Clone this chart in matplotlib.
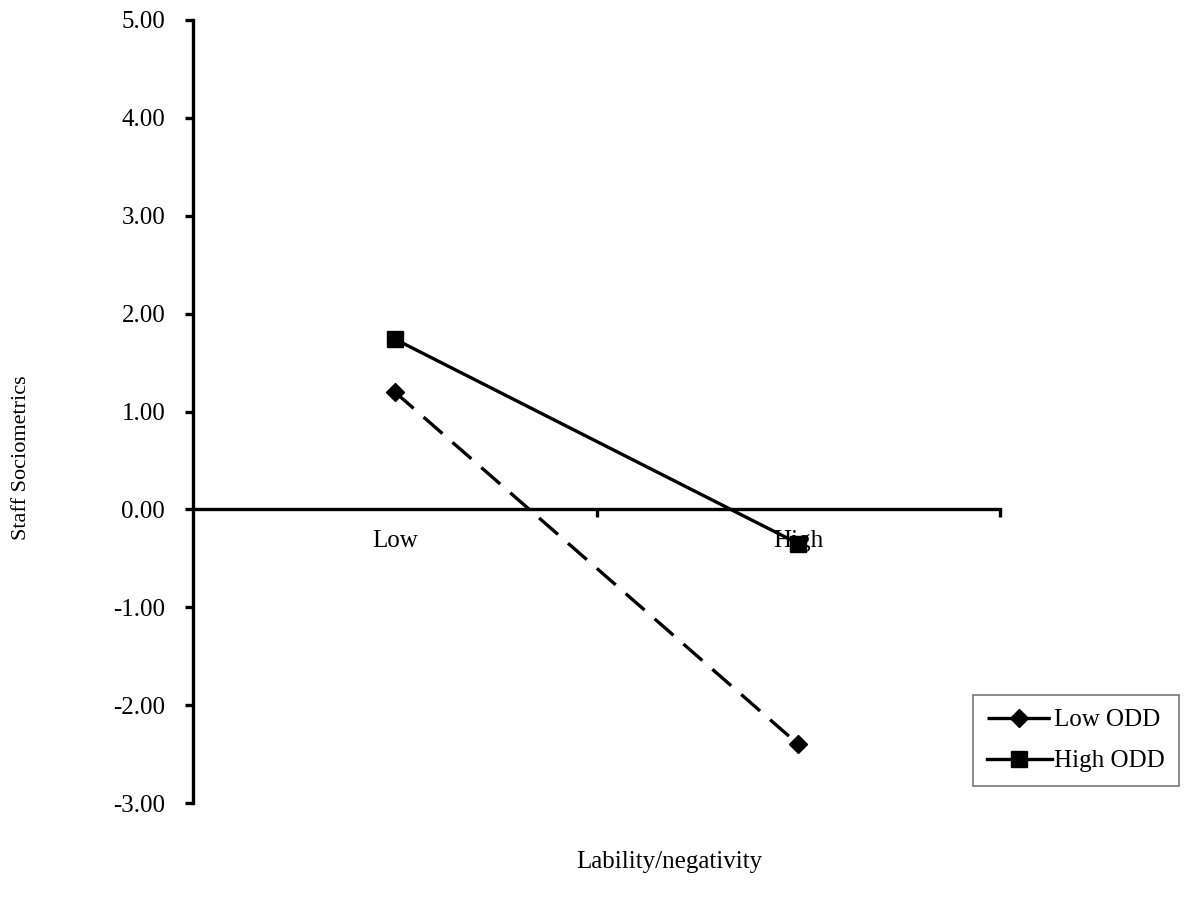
import matplotlib
matplotlib.use("Agg")
import matplotlib.pyplot as plt

categories = ["Low", "High"]
low_odd = [1.20, -2.40]
high_odd = [1.74, -0.35]
yticks = [5.0, 4.0, 3.0, 2.0, 1.0, 0.0, -1.0, -2.0, -3.0]

plt.rcParams['font.family'] = ['Liberation Serif', 'DejaVu Serif']
fs = 18

fig = plt.figure(figsize=(12.01, 9.15), dpi=100)
ax = fig.add_axes([193/1201, 112/915, 807/1201, 783/915])

xpos = [0.5 + i for i in range(len(categories))]
ax.plot(xpos, low_odd, color='black', lw=2.4, dashes=(7.5, 4), marker='D',
        markersize=9, label='Low ODD', zorder=3)
ax.plot(xpos, high_odd, color='black', lw=2.4, marker='s',
        markersize=12, label='High ODD', zorder=3)

ax.set_xlim(0, 2)
ax.set_ylim(-3, 5)

for s in ['top', 'right']:
    ax.spines[s].set_visible(False)
ax.spines['bottom'].set_position(('data', 0))
ax.spines['left'].set_linewidth(2.4)
ax.spines['bottom'].set_linewidth(2.4)

ax.set_yticks(yticks)
ax.set_yticklabels([f"{v:.2f}" for v in yticks], fontsize=fs)
ax.tick_params(axis='y', direction='out', length=6, width=2.4, pad=14)

ax.set_xticks([1, 2])
ax.set_xticklabels([])
ax.tick_params(axis='x', which='major', direction='out', length=6, width=2.4)
ax.set_xticks(xpos, minor=True)
ax.set_xticklabels(categories, minor=True, fontsize=fs)
ax.tick_params(axis='x', which='minor', length=0, pad=15)

fig.text(22/1201, 1 - 458/915, "Staff Sociometrics", rotation=90,
         ha='center', va='center', fontsize=16)
fig.text(669/1201, 1 - 862/915, "Lability/negativity",
         ha='center', va='center', fontsize=fs)

leg = ax.legend(loc='upper left', bbox_to_anchor=(973/1201, 1 - 695/915),
                bbox_transform=fig.transFigure, fontsize=fs, frameon=True,
                fancybox=False, edgecolor='#555555', handlelength=2.6,
                handletextpad=0.1, borderpad=0.55, labelspacing=0.75,
                borderaxespad=0)
leg.get_frame().set_linewidth(1.2)

fig.savefig("out.png", dpi=100)
